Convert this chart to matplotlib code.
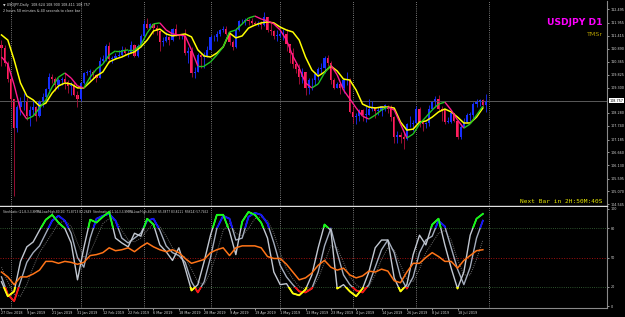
import numpy as np
import matplotlib
matplotlib.use("Agg")
import matplotlib.pyplot as plt
from matplotlib.collections import LineCollection
from matplotlib.patches import Rectangle

# daily USDJPY bars, 27 Dec 2018 .. 31 Jul 2019 (bar index = trading day)
first_open = 111.05
closes = [110.90, 110.30, 109.65, 108.85, 107.65, 108.50, 108.70, 108.75, 108.15, 108.40,
          108.50, 108.15, 108.70, 108.90, 109.25, 109.75, 109.65, 109.40, 109.60, 109.65,
          109.55, 109.35, 109.40, 109.00, 108.85, 109.50, 109.90, 109.95, 109.95, 109.80,
          109.70, 110.40, 110.45, 111.00, 110.45, 110.50, 110.60, 110.65, 110.85, 110.70,
          110.70, 111.05, 110.60, 111.00, 111.40, 111.90, 111.75, 111.90, 111.75, 111.60,
          111.15, 111.20, 111.35, 111.25, 111.70, 111.45, 111.40, 111.40, 110.70, 110.80,
          109.90, 109.95, 110.65, 110.55, 110.60, 110.85, 111.35, 111.35, 111.50, 111.65,
          111.70, 111.50, 111.15, 110.95, 111.65, 112.00, 112.00, 112.05, 112.00, 111.95,
          111.90, 111.90, 111.85, 112.20, 111.65, 111.60, 111.40, 111.40, 111.50, 111.50,
          111.10, 110.70, 110.25, 110.05, 109.75, 109.95, 109.30, 109.60, 109.60, 109.85,
          110.05, 110.10, 110.50, 110.30, 109.60, 109.30, 109.45, 109.30, 109.60, 109.60,
          108.30, 108.10, 108.15, 108.40, 108.20, 108.20, 108.45, 108.50, 108.35, 108.35,
          108.55, 108.55, 108.45, 108.10, 107.30, 107.35, 107.30, 107.20, 107.80, 107.80,
          107.85, 108.45, 107.90, 107.80, 107.85, 108.45, 108.70, 108.85, 108.45, 108.40,
          107.90, 107.90, 108.25, 107.95, 107.30, 107.70, 107.90, 108.20, 108.20, 108.65,
          108.70, 108.80, 108.60, 108.75]
highs = [111.25, 111.05, 110.40, 109.70, 108.85, 108.60, 108.90, 109.10, 108.90, 108.55,
         108.75, 108.55, 108.80, 109.10, 109.30, 109.90, 109.85, 109.75, 109.70, 109.75,
         109.90, 109.60, 109.55, 109.55, 109.15, 109.55, 109.95, 110.00, 110.05, 110.00,
         109.85, 110.55, 110.65, 111.10, 111.15, 110.60, 110.70, 110.85, 111.00, 110.95,
         110.85, 111.20, 111.10, 111.10, 111.50, 112.05, 112.15, 111.95, 111.90, 111.85,
         111.55, 111.35, 111.55, 111.40, 111.75, 111.90, 111.50, 111.50, 111.70, 110.95,
         110.95, 110.15, 110.70, 110.70, 110.75, 111.00, 111.45, 111.45, 111.60, 111.70,
         111.80, 111.80, 111.55, 111.25, 111.75, 112.05, 112.10, 112.15, 112.15, 112.15,
         112.00, 112.00, 112.00, 112.40, 112.20, 111.95, 111.65, 111.65, 111.70, 111.70,
         111.70, 111.05, 110.90, 110.35, 110.25, 110.10, 109.95, 109.70, 109.70, 109.95,
         110.15, 110.30, 110.60, 110.65, 110.40, 109.70, 109.55, 109.50, 109.70, 109.95,
         109.70, 108.55, 108.25, 108.45, 108.45, 108.55, 108.85, 108.75, 108.50, 108.50,
         108.55, 108.65, 108.60, 108.60, 108.15, 107.55, 107.50, 107.50, 107.85, 108.15,
         108.00, 108.55, 108.50, 107.95, 107.90, 108.60, 108.75, 108.95, 109.00, 108.55,
         108.45, 108.10, 108.30, 108.25, 108.00, 107.80, 108.05, 108.25, 108.30, 108.70,
         108.85, 108.85, 108.85, 109.05]
lows = [110.20, 110.20, 109.55, 108.50, 104.90, 107.50, 108.20, 108.40, 108.00, 107.75,
        108.20, 107.95, 108.10, 108.50, 108.70, 109.10, 109.50, 109.15, 109.25, 109.40,
        109.25, 109.10, 109.00, 108.95, 108.50, 108.75, 109.45, 109.80, 109.60, 109.65,
        109.55, 109.70, 110.30, 110.40, 110.30, 110.30, 110.45, 110.55, 110.60, 110.65,
        110.55, 110.70, 110.55, 110.55, 110.95, 111.35, 111.70, 111.70, 111.50, 111.45,
        110.80, 111.00, 111.15, 111.05, 111.20, 111.40, 111.30, 111.30, 110.65, 110.30,
        109.75, 109.70, 109.95, 110.10, 110.10, 110.55, 110.85, 111.20, 111.20, 111.40,
        111.55, 111.45, 111.05, 110.85, 110.90, 111.60, 111.90, 111.85, 111.85, 111.85,
        111.85, 111.80, 111.70, 111.80, 111.55, 111.45, 111.30, 111.20, 111.35, 111.25,
        110.80, 110.30, 110.10, 109.90, 109.45, 109.50, 109.00, 109.05, 109.20, 109.40,
        109.60, 109.90, 109.90, 110.20, 109.45, 109.25, 109.30, 109.05, 109.10, 109.40,
        108.25, 107.85, 107.80, 107.95, 107.95, 107.90, 108.20, 108.35, 108.05, 108.20,
        108.15, 108.35, 108.25, 107.95, 107.05, 107.05, 107.05, 106.80, 107.15, 107.70,
        107.55, 107.85, 107.70, 107.55, 107.65, 107.75, 108.40, 108.55, 108.35, 107.95,
        107.80, 107.85, 107.85, 107.90, 107.20, 107.20, 107.70, 107.85, 107.95, 108.05,
        108.50, 108.55, 108.50, 108.30]

# moving averages read every second bar (bars 0, 2, 4, ... 152)
slow_ma = [111.45, 111.24, 110.43, 109.49, 108.96, 108.80, 108.55, 108.67, 109.08, 109.37,
           109.49, 109.45, 109.29, 109.29, 109.53, 109.78, 109.94, 110.35, 110.47, 110.55,
           110.67, 110.76, 110.96, 111.24, 111.61, 111.69, 111.49, 111.41, 111.45, 111.49,
           111.37, 110.84, 110.59, 110.55, 110.71, 110.96, 111.53, 111.33, 111.41, 111.73,
           111.85, 111.94, 111.98, 111.94, 111.77, 111.65, 111.57, 111.24, 110.55, 110.02,
           109.77, 109.94, 110.18, 109.98, 109.65, 109.61, 109.20, 108.63, 108.51, 108.47,
           108.51, 108.51, 108.47, 107.90, 107.57, 107.61, 107.90, 107.94, 108.10, 108.31,
           108.43, 108.31, 108.10, 107.86, 107.86, 108.10, 108.47]
fast_ma = [110.55, 110.26, 109.41, 108.39, 108.02, 108.14, 108.47, 108.80, 109.33, 109.73,
           109.90, 109.69, 109.37, 109.29, 109.73, 110.06, 110.26, 110.63, 110.80, 110.80,
           110.84, 110.84, 111.04, 111.53, 111.90, 111.94, 111.65, 111.49, 111.45, 111.41,
           110.84, 110.18, 110.18, 110.35, 110.63, 110.96, 111.57, 111.65, 111.90, 112.14,
           112.22, 112.10, 112.02, 111.90, 111.65, 111.24, 110.59, 110.10, 109.49, 109.29,
           109.45, 109.90, 110.22, 109.82, 109.20, 108.84, 108.47, 108.14, 108.02, 108.18,
           108.39, 108.51, 108.39, 107.82, 107.25, 107.41, 107.82, 108.10, 108.39, 108.63,
           108.71, 108.39, 107.98, 107.65, 107.82, 108.18, 108.55]

# oscillator window, also every second bar
stoch_fast = [25, 10, 15, 46, 61, 66, 78, 89, 94, 86, 80, 65, 27, 60, 89, 86, 92, 97, 70, 65,
              61, 75, 72, 90, 84, 63, 56, 47, 60, 39, 16, 22, 46, 73, 94, 94, 77, 53, 87, 97,
              94, 86, 70, 35, 22, 23, 13, 11, 17, 32, 60, 84, 78, 18, 22, 15, 10, 18, 35, 60,
              68, 68, 29, 15, 22, 53, 73, 63, 84, 90, 63, 39, 18, 35, 73, 90, 95]
stoch_slow = [30, 12, 5, 25, 45, 55, 62, 75, 88, 93, 88, 75, 50, 40, 70, 90, 93, 95, 88, 70,
              65, 70, 75, 88, 90, 78, 62, 55, 52, 45, 25, 14, 25, 50, 80, 93, 90, 68, 70, 92,
              96, 94, 85, 65, 42, 30, 22, 15, 14, 18, 35, 62, 80, 55, 32, 22, 16, 14, 22, 40,
              58, 68, 55, 30, 18, 30, 55, 68, 72, 88, 82, 60, 38, 22, 40, 70, 88]
stoch_signal = [40, 25, 12, 10, 22, 40, 55, 65, 75, 85, 88, 82, 65, 50, 55, 70, 85, 90, 88, 78,
                68, 66, 70, 78, 85, 82, 72, 60, 55, 50, 38, 25, 22, 35, 55, 78, 85, 75, 72, 80,
                90, 92, 88, 75, 55, 38, 28, 20, 17, 18, 28, 45, 62, 60, 45, 30, 22, 18, 20, 32,
                48, 60, 58, 42, 28, 25, 38, 55, 65, 75, 78, 68, 48, 32, 32, 48, 68]
rsi = [35, 30, 22, 30, 30, 33, 37, 46, 46, 44, 46, 45, 43, 45, 52, 53, 55, 60, 57, 58,
       60, 56, 61, 65, 61, 58, 56, 58, 55, 49, 44, 46, 48, 55, 58, 60, 52, 60, 62, 62,
       62, 60, 51, 49, 49, 43, 35, 27, 29, 34, 42, 47, 40, 37, 39, 32, 29, 31, 36, 35,
       38, 36, 26, 24, 35, 44, 44, 50, 55, 51, 46, 46, 39, 47, 52, 57, 58]

month_starts = [3, 25, 45, 66, 88, 111, 131, 154]
date_labels = ["27 Dec 2018", "9 Jan 2019", "21 Jan 2019", "31 Jan 2019", "12 Feb 2019",
               "22 Feb 2019", "6 Mar 2019", "18 Mar 2019", "28 Mar 2019", "9 Apr 2019",
               "19 Apr 2019", "1 May 2019", "13 May 2019", "23 May 2019", "4 Jun 2019",
               "14 Jun 2019", "26 Jun 2019", "8 Jul 2019", "18 Jul 2019"]
price_ticks = [112.495, 111.955, 111.415, 110.890, 110.365, 109.825, 109.300, 108.280,
               107.740, 107.185, 106.660, 106.130, 105.595, 105.070, 104.545]
bid = 108.757

BG = "black"
TXT = "#d8d8d8"
SMALL = 2.4

fig = plt.figure(figsize=(6.25, 3.17), dpi=100, facecolor=BG)
ax = fig.add_axes([0, 1 - 206 / 317, 607 / 625, 205 / 317], facecolor=BG)
ax2 = fig.add_axes([0, 1 - 308 / 317, 607 / 625, 101 / 317], facecolor=BG, sharex=ax)

n = len(closes)
bars = np.arange(n)
opens = np.array([first_open] + closes[:-1])
closes_a = np.array(closes)
bull = closes_a >= opens

# candles
ax.vlines(bars[bull], np.array(lows)[bull], np.array(highs)[bull], color="#1a2cff", lw=0.6)
ax.vlines(bars[~bull], np.array(lows)[~bull], np.array(highs)[~bull], color="#b0103a", lw=0.6)
body_lo = np.minimum(opens, closes_a)
body_h = np.maximum(np.abs(closes_a - opens), 0.03)
ax.bar(bars[bull], body_h[bull], bottom=body_lo[bull], width=0.7, color="#1432ff", lw=0)
ax.bar(bars[~bull], body_h[~bull], bottom=body_lo[~bull], width=0.7, color="#ff1f5e", lw=0)

# moving averages
ma_bars = np.arange(0, n, 2)[:len(slow_ma)]
ax.plot(ma_bars, slow_ma, color="#ffff00", lw=1.1, zorder=4)
fm = np.array(fast_ma)
segs = [[(ma_bars[i], fm[i]), (ma_bars[i + 1], fm[i + 1])] for i in range(len(fm) - 1)]
cols = ["#22c422" if fm[i + 1] >= fm[i] else "#ff1a8c" for i in range(len(fm) - 1)]
ax.add_collection(LineCollection(segs, colors=cols, lw=1.0, zorder=5))

ax.axhline(bid, color="#5a5a5a", lw=0.7, zorder=1)

ax.set_xlim(-0.47, 191.2)
ax.set_ylim(104.476, 112.833)

for a in (ax, ax2):
    for m in month_starts:
        a.axvline(m, color="#a0a0a0", lw=0.6, ls=(0, (1, 1.6)), zorder=0)
    for s in ("top", "left"):
        a.spines[s].set_visible(False)
    a.spines["right"].set_color("#8a8a8a")
    a.yaxis.tick_right()
    a.tick_params(axis="y", colors=TXT, labelsize=SMALL, length=1.5, width=0.5, pad=1.0)

ax.spines["bottom"].set_color("#e0e0e0")
ax.spines["bottom"].set_linewidth(1.0)
ax.set_yticks(price_ticks)
ax.set_yticklabels([f"{v:.3f}" for v in price_ticks])
ax.tick_params(axis="x", bottom=False, labelbottom=False)
ax.annotate(f"{bid:.3f}", xy=(1.0, bid), xycoords=("axes fraction", "data"),
            xytext=(1.6, 0), textcoords="offset points", fontsize=SMALL, color="black",
            va="center", ha="left",
            bbox=dict(boxstyle="square,pad=0.15", fc="white", ec="none"))

# texts on the price window
ax.text(0.005, 0.99, "\u25bc USDJPY,Daily  108.624 108.900 108.411 108.757",
        transform=ax.transAxes, fontsize=SMALL, color=TXT, va="top", ha="left")
ax.text(0.005, 0.96, "2 hours 50 minutes & 40 seconds to close bar",
        transform=ax.transAxes, fontsize=SMALL, color=TXT, va="top", ha="left")
ax.text(0.992, 0.895, "USDJPY D1", transform=ax.transAxes, fontsize=6.6,
        fontweight="bold", color="#ff00ff", ha="right", va="center")
ax.text(0.992, 0.835, "TMSr", transform=ax.transAxes, fontsize=4.6, color="#b09a00",
        ha="right", va="center")
ax.text(0.993, 0.012, "Next Bar in 2H:50M:40S", transform=ax.transAxes, fontsize=4.4,
        family="DejaVu Sans Mono", color="#e8e800", ha="right", va="bottom")

# oscillator window
ax2.set_ylim(-2.06, 102.06)
ax2.axhline(80, color="#3c6e3c", lw=0.6, ls=(0, (1, 1.6)))
ax2.axhline(20, color="#3c6e3c", lw=0.6, ls=(0, (1, 1.6)))
ax2.axhline(50, color="#a01010", lw=0.7, ls=(0, (1, 1.6)))
ax2.plot(ma_bars, stoch_signal, color="#6a6a6a", lw=0.7, ls=(0, (1, 1.2)))
ax2.plot(ma_bars, stoch_slow, color="#a4adbd", lw=1.0)
ax2.plot(ma_bars, stoch_fast, color="#c2c8d2", lw=1.0)
ax2.plot(ma_bars, rsi, color="#ff7418", lw=1.1)


def highlight(x, y, color, lo, hi):
    line, = ax2.plot(x, y, color=color, lw=1.3, zorder=5)
    line.set_clip_path(Rectangle((-5, lo), 300, hi - lo, transform=ax2.transData))


highlight(ma_bars, stoch_slow, "#1010ff", 80, 110)
highlight(ma_bars, stoch_fast, "#10ff10", 80, 110)
highlight(ma_bars, stoch_slow, "#ff1010", -10, 20)
highlight(ma_bars, stoch_fast, "#ffff00", -10, 20)

ax2.set_yticks([0, 20, 50, 80, 100])
ax2.set_yticklabels(["0", "20", "50", "80", "100"])
ax2.spines["bottom"].set_color("#8a8a8a")
ax2.set_xticks(np.arange(0, 8 * len(date_labels), 8))
ax2.set_xticklabels(date_labels)
ax2.tick_params(axis="x", colors=TXT, labelsize=SMALL, length=1.5, width=0.5, pad=0.8)
for lbl in ax2.get_xticklabels():
    lbl.set_ha("left")

ax2.text(0.005, 0.975,
         "Stochastic (21,8,3,3,SMMA,Low/High,80,20) 71.8713 82.2649  "
         "Stochastic (21,14,3,3,SMMA,Low/High,80,20) 65.3877 83.8111  RSI(14) 57.7452",
         transform=ax2.transAxes, fontsize=2.1, color=TXT, va="top", ha="left")

fig.savefig("out.png", dpi=100, facecolor=BG)
